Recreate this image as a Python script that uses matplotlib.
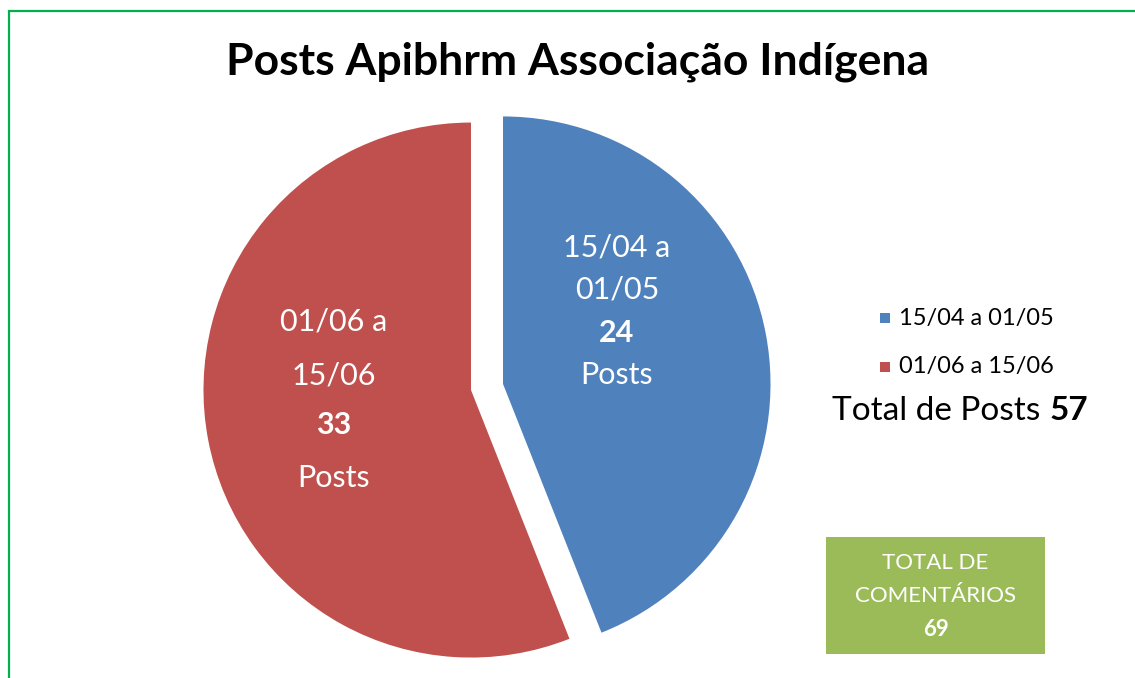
import matplotlib
matplotlib.use("Agg")
import matplotlib.pyplot as plt
from matplotlib.patches import Rectangle

plt.rcParams['font.family'] = ['Lato', 'DejaVu Sans']

title = "Posts Apibhrm Associação Indígena"
categories = ["15/04 a 01/05", "01/06 a 15/06"]
post_counts = [24, 33]            # values printed in the slice labels
slice_share_pct = [44, 56]        # slice angles as drawn in the picture
colors = ["#4F81BD", "#C0504D"]
total_posts = 57
total_comments = 69

W, H = 1135, 678
fig = plt.figure(figsize=(W / 100, H / 100), dpi=100)
ax = fig.add_axes([0, 0, 1, 1])

def Y(y):
    return H - y

# pie
wedges, _ = ax.pie(slice_share_pct, colors=colors, startangle=90, counterclock=False,
                   center=(487, Y(387)), radius=267.5, explode=[16.3, 16.3],
                   wedgeprops=dict(linewidth=0))
ax.set_xlim(0, W)
ax.set_ylim(0, H)
ax.set_aspect('equal')
ax.axis('off')

# border
ax.add_patch(Rectangle((8.5, Y(700)), 1200, 700 - 10.5, fill=False,
                       edgecolor="#00B050", linewidth=1.6))

# title
ax.text(578, Y(62), title, ha='center', va='center', fontsize=32,
        fontweight='bold', color='black')

# slice labels
def slice_label(x, ys, lines):
    for y, (txt, bold) in zip(ys, lines):
        ax.text(x, Y(y), txt, ha='center', va='center', fontsize=22,
                color='white', fontweight='bold' if bold else 'normal')

slice_label(617, [248, 290, 333, 375],
            [("15/04 a", False), ("01/05", False), (str(post_counts[0]), True), ("Posts", False)])
slice_label(334, [322, 375, 425, 478],
            [("01/06 a", False), ("15/06", False), (str(post_counts[1]), True), ("Posts", False)])

# legend
for (cat, col, y) in zip(categories, colors, [318, 367]):
    ax.add_patch(Rectangle((880, Y(y) - 5), 10, 10, facecolor=col, edgecolor='none'))
    ax.text(899, Y(y), cat, ha='left', va='center', fontsize=17, color='black')

ax.text(832, Y(411), "Total de Posts", ha='left', va='center', fontsize=24, color='black')
ax.text(1088, Y(411), str(total_posts), ha='right', va='center', fontsize=24,
        fontweight='bold', color='black')

# comments box
ax.add_patch(Rectangle((826, Y(654)), 219, 117, facecolor="#9BBB59", edgecolor='none'))
ax.text(935.5, Y(563), "TOTAL DE", ha='center', va='center', fontsize=16, color='white')
ax.text(935.5, Y(596), "COMENTÁRIOS", ha='center', va='center', fontsize=16, color='white')
ax.text(935.5, Y(629), str(total_comments), ha='center', va='center', fontsize=16,
        fontweight='bold', color='white')

fig.savefig("out.png", dpi=100)
